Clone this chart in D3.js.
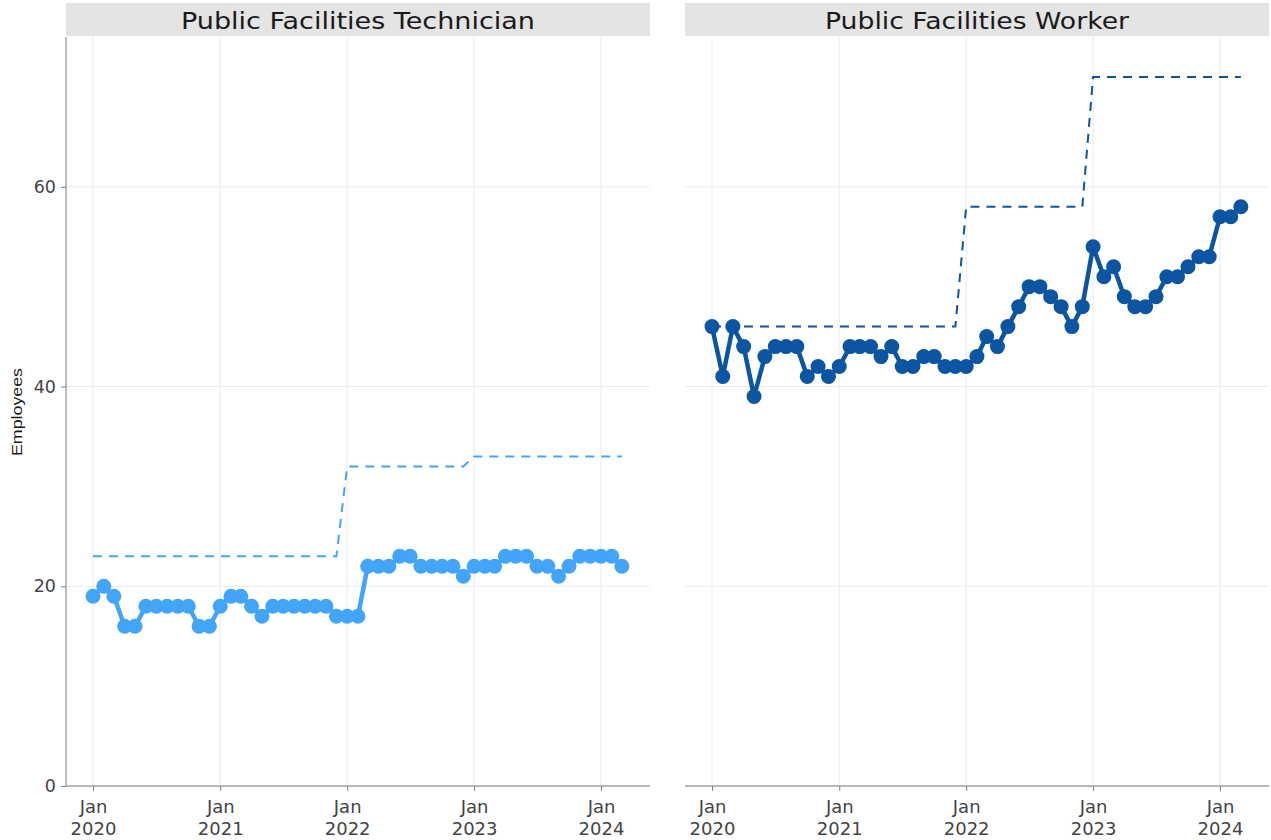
<!DOCTYPE html>
<html>
<head>
<meta charset="utf-8">
<script src="https://cdn.jsdelivr.net/npm/d3@7"></script>
<style>
  html, body { margin: 0; padding: 0; background: #fff; }
  svg { display: block; }
</style>
</head>
<body>
<svg id="chart" width="1271" height="840"></svg>
<script>
// ---- Data ----
const startMonth = "2020-01";
const endMonth = "2024-03";
const panels = ["Public Facilities Technician", "Public Facilities Worker"];
const xTickLabels = ["Jan 2020", "Jan 2021", "Jan 2022", "Jan 2023", "Jan 2024"];
const yTicks = [0, 20, 40, 60];

const technicianActual = [19, 20, 19, 16, 16, 18, 18, 18, 18, 18, 16, 16,
  18, 19, 19, 18, 17, 18, 18, 18, 18, 18, 18, 17,
  17, 17, 22, 22, 22, 23, 23, 22, 22, 22, 22, 21,
  22, 22, 22, 23, 23, 23, 22, 22, 21, 22, 23, 23,
  23, 23, 22];
const technicianTarget = [23, 23, 23, 23, 23, 23, 23, 23, 23, 23, 23, 23,
  23, 23, 23, 23, 23, 23, 23, 23, 23, 23, 23, 23,
  32, 32, 32, 32, 32, 32, 32, 32, 32, 32, 32, 32,
  33, 33, 33, 33, 33, 33, 33, 33, 33, 33, 33, 33,
  33, 33, 33];
const workerActual = [46, 41, 46, 44, 39, 43, 44, 44, 44, 41, 42, 41,
  42, 44, 44, 44, 43, 44, 42, 42, 43, 43, 42, 42,
  42, 43, 45, 44, 46, 48, 50, 50, 49, 48, 46, 48,
  54, 51, 52, 49, 48, 48, 49, 51, 51, 52, 53, 53,
  57, 57, 58];
const workerTarget = [46, 46, 46, 46, 46, 46, 46, 46, 46, 46, 46, 46,
  46, 46, 46, 46, 46, 46, 46, 46, 46, 46, 46, 46,
  58, 58, 58, 58, 58, 58, 58, 58, 58, 58, 58, 58,
  71, 71, 71, 71, 71, 71, 71, 71, 71, 71, 71, 71,
  71, 71, 71];
const seriesColors = ["#42a5f9", "#0b55a2"];

// ---- Build ----
const parseMonth = d3.timeParse("%Y-%m");
const months = d3.timeMonth.range(parseMonth(startMonth), d3.timeMonth.offset(parseMonth(endMonth), 1));
const tickDates = xTickLabels.map(s => d3.timeParse("%b %Y")(s));

const panelData = [
  { title: panels[0], actual: technicianActual, target: technicianTarget, color: seriesColors[0], titleLen: 354 },
  { title: panels[1], actual: workerActual, target: workerTarget, color: seriesColors[1], titleLen: 304 }
];

const svg = d3.select("#chart");
const panelLefts = [66, 685];
const panelW = 584;
const stripTop = 3, stripH = 33;
const plotTop = 37, plotBottom = 786;

const y = d3.scaleLinear().domain([0, 75]).range([plotBottom - plotTop, 0]);
const x = d3.scaleTime().domain([tickDates[0], tickDates[4]]).range([27, 535]);

const font = "DejaVu Sans, Verdana, sans-serif";

panelData.forEach((p, i) => {
  const g = svg.append("g").attr("transform", `translate(${panelLefts[i]},0)`);

  // strip
  g.append("rect").attr("x", 0).attr("y", stripTop).attr("width", panelW).attr("height", stripH)
    .attr("fill", "#e4e4e4");
  g.append("text").attr("x", panelW / 2).attr("y", stripTop + stripH / 2 + 9)
    .attr("text-anchor", "middle").attr("font-family", font).attr("font-size", 23.5)
    .attr("textLength", p.titleLen).attr("lengthAdjust", "spacingAndGlyphs")
    .attr("fill", "#1a1a1a").text(p.title);

  const plot = g.append("g").attr("transform", `translate(0,${plotTop})`);

  // gridlines
  plot.append("g").selectAll("line").data(yTicks).join("line")
    .attr("x1", 0).attr("x2", panelW)
    .attr("y1", d => y(d)).attr("y2", d => y(d))
    .attr("stroke", "#ebebeb").attr("stroke-width", 1);
  plot.append("g").selectAll("line").data(tickDates).join("line")
    .attr("y1", 0).attr("y2", y(0))
    .attr("x1", d => x(d)).attr("x2", d => x(d))
    .attr("stroke", "#ebebeb").attr("stroke-width", 1);

  // x axis
  const xAxis = plot.append("g").attr("transform", `translate(0,${y(0)})`)
    .call(d3.axisBottom(x).tickValues(tickDates).tickSize(5).tickFormat(() => ""));
  xAxis.select(".domain").attr("stroke", "#7f7f7f").attr("d", `M0,0H${panelW}`);
  xAxis.selectAll(".tick line").attr("stroke", "#7f7f7f");
  xAxis.selectAll(".tick").each(function (d) {
    const t = d3.select(this).append("text").attr("fill", "#444").attr("font-family", font)
      .attr("font-size", 18).attr("text-anchor", "middle");
    t.append("tspan").attr("x", 0).attr("y", 27).text(d3.timeFormat("%b")(d));
    t.append("tspan").attr("x", 0).attr("y", 49).text(d3.timeFormat("%Y")(d));
  });

  // y axis (only on first panel)
  if (i === 0) {
    const yAxis = plot.append("g")
      .call(d3.axisLeft(y).tickValues(yTicks).tickSize(5).tickPadding(5));
    yAxis.select(".domain").attr("stroke", "#7f7f7f").attr("d", `M0,0V${y(0)}`);
    yAxis.selectAll(".tick line").attr("stroke", "#7f7f7f");
    yAxis.selectAll(".tick text").attr("fill", "#444").attr("font-family", font).attr("font-size", 17.5);
  }

  // target dashed line
  const line = d3.line().x((d, j) => x(months[j])).y(d => y(d));
  plot.append("path").datum(p.target).attr("d", line)
    .attr("fill", "none").attr("stroke", p.color).attr("stroke-width", 2)
    .attr("stroke-dasharray", "9,7");

  // actual line
  plot.append("path").datum(p.actual).attr("d", line)
    .attr("fill", "none").attr("stroke", p.color).attr("stroke-width", 4.5)
    .attr("stroke-linejoin", "round");

  plot.append("g").selectAll("circle").data(p.actual).join("circle")
    .attr("cx", (d, j) => x(months[j])).attr("cy", d => y(d))
    .attr("r", 7.5).attr("fill", p.color);
});

// y axis title
svg.append("text").attr("transform", "translate(22,412) rotate(-90)")
  .attr("text-anchor", "middle").attr("font-family", "Liberation Sans, Arial, sans-serif")
  .attr("font-size", 14).attr("textLength", 88).attr("lengthAdjust", "spacingAndGlyphs")
  .attr("fill", "#1a1a1a").text("Employees");
</script>
</body>
</html>
